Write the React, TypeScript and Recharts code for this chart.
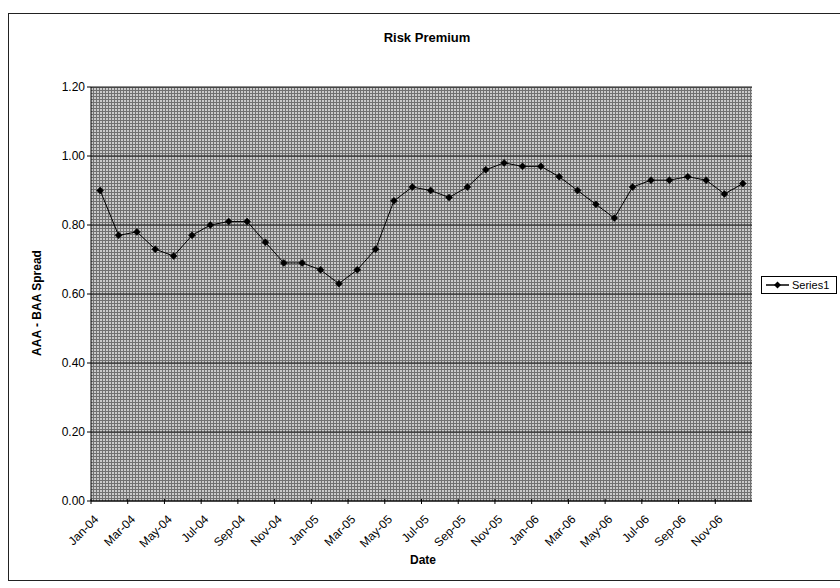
import React from 'react';
import { LineChart, Line, XAxis, YAxis, CartesianGrid } from 'recharts';

const MONTHS = [
  'Jan-04', 'Feb-04', 'Mar-04', 'Apr-04', 'May-04', 'Jun-04', 'Jul-04', 'Aug-04', 'Sep-04', 'Oct-04', 'Nov-04', 'Dec-04',
  'Jan-05', 'Feb-05', 'Mar-05', 'Apr-05', 'May-05', 'Jun-05', 'Jul-05', 'Aug-05', 'Sep-05', 'Oct-05', 'Nov-05', 'Dec-05',
  'Jan-06', 'Feb-06', 'Mar-06', 'Apr-06', 'May-06', 'Jun-06', 'Jul-06', 'Aug-06', 'Sep-06', 'Oct-06', 'Nov-06', 'Dec-06',
];

const SPREAD = [
  0.90, 0.77, 0.78, 0.73, 0.71, 0.77, 0.80, 0.81, 0.81, 0.75, 0.69, 0.69,
  0.67, 0.63, 0.67, 0.73, 0.87, 0.91, 0.90, 0.88, 0.91, 0.96, 0.98, 0.97,
  0.97, 0.94, 0.90, 0.86, 0.82, 0.91, 0.93, 0.93, 0.94, 0.93, 0.89, 0.92,
];

const Y_TICKS = [0, 0.2, 0.4, 0.6, 0.8, 1.0, 1.2];
const TITLE = 'Risk Premium';
const X_TITLE = 'Date';
const Y_TITLE = 'AAA - BAA Spread';
const SERIES_NAME = 'Series1';

const data = MONTHS.map((m, i) => ({ date: m, spread: SPREAD[i] }));

const W = 840;
const H = 588;
const PLOT_LEFT = 91;
const PLOT_RIGHT = 752;
const PLOT_TOP = 87;
const PLOT_BOTTOM = 501;
const FONT = 'Arial, "Liberation Sans", sans-serif';

const HALF_BAND = (PLOT_RIGHT - PLOT_LEFT) / MONTHS.length / 2;

const XTick = (props: any) => {
  const { x, payload } = props;
  const ty = PLOT_BOTTOM + 19;
  const tx = x - 1;
  return (
    <g>
      <line x1={x - HALF_BAND} x2={x - HALF_BAND} y1={PLOT_BOTTOM - 2} y2={PLOT_BOTTOM + 3} stroke="#000" strokeWidth={1} />
      <text
        x={tx}
        y={ty}
        transform={`rotate(-45 ${tx} ${ty})`}
        textAnchor="end"
        fontFamily={FONT}
        fontSize={12}
        fill="#000"
      >
        {payload.value}
      </text>
    </g>
  );
};

const Diamond = (props: any) => {
  const { cx, cy } = props;
  if (cx == null || cy == null) return null;
  const r = 3.5;
  return (
    <polygon
      points={`${cx},${cy - r} ${cx + r},${cy} ${cx},${cy + r} ${cx - r},${cy}`}
      fill="#000"
      stroke="#000"
      strokeWidth={0.5}
    />
  );
};

export default function App() {
  return (
    <div style={{ position: 'absolute', left: 0, top: 0, width: W, height: H, background: '#fff' }}>
      <div
        style={{
          position: 'absolute',
          left: 8,
          top: 13,
          width: W - 8,
          height: 581 - 13,
          borderLeft: '1px solid #222',
          borderTop: '1px solid #222',
          borderBottom: '1px solid #222',
          boxSizing: 'border-box',
        }}
      />
      <div style={{ position: 'absolute', left: 0, top: 0 }}>
        <LineChart
          width={W}
          height={H}
          data={data}
          margin={{ top: PLOT_TOP, right: W - PLOT_RIGHT, bottom: 0, left: 0 }}
        >
          <defs>
            <pattern id="dither" x="0" y="0" width="3" height="3" patternUnits="userSpaceOnUse">
              <rect x="0" y="0" width="3" height="3" fill="#cacaca" />
              <rect x="0" y="0" width="3" height="1" fill="#707070" />
              <rect x="0" y="0" width="1" height="3" fill="#707070" />
            </pattern>
          </defs>
          <CartesianGrid vertical={false} horizontal={true} stroke="#1a1a1a" strokeWidth={1} fill="url(#dither)" fillOpacity={1} />
          <XAxis
            dataKey="date"
            interval={1}
            height={H - PLOT_BOTTOM}
            padding={{ left: HALF_BAND, right: HALF_BAND }}
            tick={<XTick />}
            tickLine={false}
            axisLine={{ stroke: '#000' }}
          />
          <YAxis
            width={PLOT_LEFT}
            domain={[0, 1.2]}
            ticks={Y_TICKS}
            tickFormatter={(v: number) => v.toFixed(2)}
            tick={{ fontFamily: FONT, fontSize: 12, fill: '#000' }}
            tickSize={4}
            tickLine={{ stroke: '#000' }}
            axisLine={{ stroke: '#000' }}
          />
          <Line
            type="linear"
            dataKey="spread"
            name={SERIES_NAME}
            stroke="#000"
            strokeWidth={1}
            dot={<Diamond />}
            activeDot={false}
            isAnimationActive={false}
          />
          <text x={427} y={42} textAnchor="middle" fontFamily={FONT} fontSize={13} fontWeight="bold" fill="#000">
            {TITLE}
          </text>
          <text x={423} y={564} textAnchor="middle" fontFamily={FONT} fontSize={12} fontWeight="bold" fill="#000">
            {X_TITLE}
          </text>
          <text
            x={41}
            y={303}
            textAnchor="middle"
            transform="rotate(-90 41 303)"
            fontFamily={FONT}
            fontSize={12}
            fontWeight="bold"
            fill="#000"
          >
            {Y_TITLE}
          </text>
        </LineChart>
      </div>
      <div
        style={{
          position: 'absolute',
          left: 761,
          top: 276,
          width: 76,
          height: 18,
          border: '1px solid #000',
          background: '#fff',
          boxSizing: 'border-box',
        }}
      >
        <svg width={74} height={16} style={{ position: 'absolute', left: 0, top: 0 }}>
          <line x1={4} x2={27} y1={8} y2={8} stroke="#000" strokeWidth={1.5} />
          <polygon points="15.5,4.5 19,8 15.5,11.5 12,8" fill="#000" />
          <text x={30} y={12} fontFamily={FONT} fontSize={11} fill="#000">
            {SERIES_NAME}
          </text>
        </svg>
      </div>
    </div>
  );
}
